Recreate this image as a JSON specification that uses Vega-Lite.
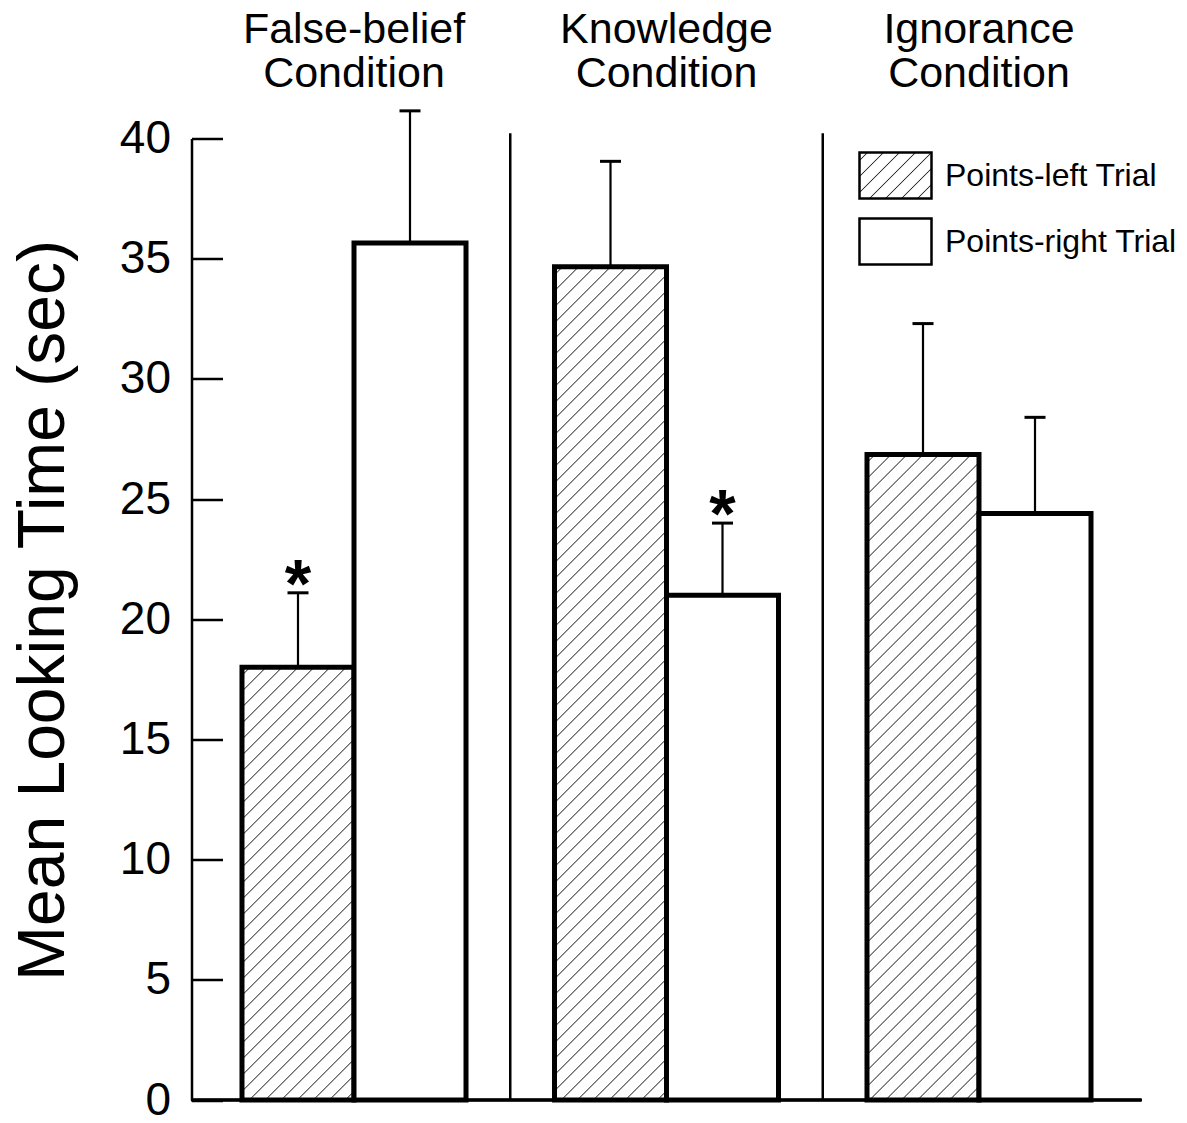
{
  "$schema": "https://vega.github.io/schema/vega-lite/v6.json",
  "width": 950,
  "height": 961.5,
  "autosize": {"type": "none"},
  "padding": {"left": 191.5, "top": 138.5, "right": 45.5, "bottom": 23},
  "background": "white",
  "config": {"font": "Liberation Sans", "view": {"stroke": null}},
  "params": [
    {"name": "hs", "value": [
      {"offset":0,"color":"#fff"},
      {"offset":0.0068,"color":"#fff"},{"offset":0.008,"color":"#333"},{"offset":0.0092,"color":"#fff"},
      {"offset":0.0228,"color":"#fff"},{"offset":0.024,"color":"#333"},{"offset":0.0252,"color":"#fff"},
      {"offset":0.0388,"color":"#fff"},{"offset":0.04,"color":"#333"},{"offset":0.0412,"color":"#fff"},
      {"offset":0.0548,"color":"#fff"},{"offset":0.056,"color":"#333"},{"offset":0.0572,"color":"#fff"},
      {"offset":0.0708,"color":"#fff"},{"offset":0.072,"color":"#333"},{"offset":0.0732,"color":"#fff"},
      {"offset":0.0868,"color":"#fff"},{"offset":0.088,"color":"#333"},{"offset":0.0892,"color":"#fff"},
      {"offset":0.1028,"color":"#fff"},{"offset":0.104,"color":"#333"},{"offset":0.1052,"color":"#fff"},
      {"offset":0.1188,"color":"#fff"},{"offset":0.12,"color":"#333"},{"offset":0.1212,"color":"#fff"},
      {"offset":0.1348,"color":"#fff"},{"offset":0.136,"color":"#333"},{"offset":0.1372,"color":"#fff"},
      {"offset":0.1508,"color":"#fff"},{"offset":0.152,"color":"#333"},{"offset":0.1532,"color":"#fff"},
      {"offset":0.1668,"color":"#fff"},{"offset":0.168,"color":"#333"},{"offset":0.1692,"color":"#fff"},
      {"offset":0.1828,"color":"#fff"},{"offset":0.184,"color":"#333"},{"offset":0.1852,"color":"#fff"},
      {"offset":0.1988,"color":"#fff"},{"offset":0.2,"color":"#333"},{"offset":0.2012,"color":"#fff"},
      {"offset":0.2148,"color":"#fff"},{"offset":0.216,"color":"#333"},{"offset":0.2172,"color":"#fff"},
      {"offset":0.2308,"color":"#fff"},{"offset":0.232,"color":"#333"},{"offset":0.2332,"color":"#fff"},
      {"offset":0.2468,"color":"#fff"},{"offset":0.248,"color":"#333"},{"offset":0.2492,"color":"#fff"},
      {"offset":0.2628,"color":"#fff"},{"offset":0.264,"color":"#333"},{"offset":0.2652,"color":"#fff"},
      {"offset":0.2788,"color":"#fff"},{"offset":0.28,"color":"#333"},{"offset":0.2812,"color":"#fff"},
      {"offset":0.2948,"color":"#fff"},{"offset":0.296,"color":"#333"},{"offset":0.2972,"color":"#fff"},
      {"offset":0.3108,"color":"#fff"},{"offset":0.312,"color":"#333"},{"offset":0.3132,"color":"#fff"},
      {"offset":0.3268,"color":"#fff"},{"offset":0.328,"color":"#333"},{"offset":0.3292,"color":"#fff"},
      {"offset":0.3428,"color":"#fff"},{"offset":0.344,"color":"#333"},{"offset":0.3452,"color":"#fff"},
      {"offset":0.3588,"color":"#fff"},{"offset":0.36,"color":"#333"},{"offset":0.3612,"color":"#fff"},
      {"offset":0.3748,"color":"#fff"},{"offset":0.376,"color":"#333"},{"offset":0.3772,"color":"#fff"},
      {"offset":0.3908,"color":"#fff"},{"offset":0.392,"color":"#333"},{"offset":0.3932,"color":"#fff"},
      {"offset":0.4068,"color":"#fff"},{"offset":0.408,"color":"#333"},{"offset":0.4092,"color":"#fff"},
      {"offset":0.4228,"color":"#fff"},{"offset":0.424,"color":"#333"},{"offset":0.4252,"color":"#fff"},
      {"offset":0.4388,"color":"#fff"},{"offset":0.44,"color":"#333"},{"offset":0.4412,"color":"#fff"},
      {"offset":0.4548,"color":"#fff"},{"offset":0.456,"color":"#333"},{"offset":0.4572,"color":"#fff"},
      {"offset":0.4708,"color":"#fff"},{"offset":0.472,"color":"#333"},{"offset":0.4732,"color":"#fff"},
      {"offset":0.4868,"color":"#fff"},{"offset":0.488,"color":"#333"},{"offset":0.4892,"color":"#fff"},
      {"offset":0.5028,"color":"#fff"},{"offset":0.504,"color":"#333"},{"offset":0.5052,"color":"#fff"},
      {"offset":0.5188,"color":"#fff"},{"offset":0.52,"color":"#333"},{"offset":0.5212,"color":"#fff"},
      {"offset":0.5348,"color":"#fff"},{"offset":0.536,"color":"#333"},{"offset":0.5372,"color":"#fff"},
      {"offset":0.5508,"color":"#fff"},{"offset":0.552,"color":"#333"},{"offset":0.5532,"color":"#fff"},
      {"offset":0.5668,"color":"#fff"},{"offset":0.568,"color":"#333"},{"offset":0.5692,"color":"#fff"},
      {"offset":0.5828,"color":"#fff"},{"offset":0.584,"color":"#333"},{"offset":0.5852,"color":"#fff"},
      {"offset":0.5988,"color":"#fff"},{"offset":0.6,"color":"#333"},{"offset":0.6012,"color":"#fff"},
      {"offset":0.6148,"color":"#fff"},{"offset":0.616,"color":"#333"},{"offset":0.6172,"color":"#fff"},
      {"offset":0.6308,"color":"#fff"},{"offset":0.632,"color":"#333"},{"offset":0.6332,"color":"#fff"},
      {"offset":0.6468,"color":"#fff"},{"offset":0.648,"color":"#333"},{"offset":0.6492,"color":"#fff"},
      {"offset":0.6628,"color":"#fff"},{"offset":0.664,"color":"#333"},{"offset":0.6652,"color":"#fff"},
      {"offset":0.6788,"color":"#fff"},{"offset":0.68,"color":"#333"},{"offset":0.6812,"color":"#fff"},
      {"offset":0.6948,"color":"#fff"},{"offset":0.696,"color":"#333"},{"offset":0.6972,"color":"#fff"},
      {"offset":0.7108,"color":"#fff"},{"offset":0.712,"color":"#333"},{"offset":0.7132,"color":"#fff"},
      {"offset":0.7268,"color":"#fff"},{"offset":0.728,"color":"#333"},{"offset":0.7292,"color":"#fff"},
      {"offset":0.7428,"color":"#fff"},{"offset":0.744,"color":"#333"},{"offset":0.7452,"color":"#fff"},
      {"offset":0.7588,"color":"#fff"},{"offset":0.76,"color":"#333"},{"offset":0.7612,"color":"#fff"},
      {"offset":0.7748,"color":"#fff"},{"offset":0.776,"color":"#333"},{"offset":0.7772,"color":"#fff"},
      {"offset":0.7908,"color":"#fff"},{"offset":0.792,"color":"#333"},{"offset":0.7932,"color":"#fff"},
      {"offset":0.8068,"color":"#fff"},{"offset":0.808,"color":"#333"},{"offset":0.8092,"color":"#fff"},
      {"offset":0.8228,"color":"#fff"},{"offset":0.824,"color":"#333"},{"offset":0.8252,"color":"#fff"},
      {"offset":0.8388,"color":"#fff"},{"offset":0.84,"color":"#333"},{"offset":0.8412,"color":"#fff"},
      {"offset":0.8548,"color":"#fff"},{"offset":0.856,"color":"#333"},{"offset":0.8572,"color":"#fff"},
      {"offset":0.8708,"color":"#fff"},{"offset":0.872,"color":"#333"},{"offset":0.8732,"color":"#fff"},
      {"offset":0.8868,"color":"#fff"},{"offset":0.888,"color":"#333"},{"offset":0.8892,"color":"#fff"},
      {"offset":0.9028,"color":"#fff"},{"offset":0.904,"color":"#333"},{"offset":0.9052,"color":"#fff"},
      {"offset":0.9188,"color":"#fff"},{"offset":0.92,"color":"#333"},{"offset":0.9212,"color":"#fff"},
      {"offset":0.9348,"color":"#fff"},{"offset":0.936,"color":"#333"},{"offset":0.9372,"color":"#fff"},
      {"offset":0.9508,"color":"#fff"},{"offset":0.952,"color":"#333"},{"offset":0.9532,"color":"#fff"},
      {"offset":0.9668,"color":"#fff"},{"offset":0.968,"color":"#333"},{"offset":0.9692,"color":"#fff"},
      {"offset":0.9828,"color":"#fff"},{"offset":0.984,"color":"#333"},{"offset":0.9852,"color":"#fff"}
    ]},
    {"name": "lg", "expr": "{gradient:'linear',x1:0,y1:0,x2:9.863,y2:6.301,stops:hs}"}
  ],
  "data": {"values": [
    {"cond": "False-belief Condition", "trial": "Points-left Trial", "mean": 18.0, "upper": 21.1, "sig": "*"},
    {"cond": "False-belief Condition", "trial": "Points-right Trial", "mean": 35.65, "upper": 41.15, "sig": ""},
    {"cond": "Knowledge Condition", "trial": "Points-left Trial", "mean": 34.66, "upper": 39.05, "sig": ""},
    {"cond": "Knowledge Condition", "trial": "Points-right Trial", "mean": 21.0, "upper": 24.0, "sig": "*"},
    {"cond": "Ignorance Condition", "trial": "Points-left Trial", "mean": 26.85, "upper": 32.3, "sig": ""},
    {"cond": "Ignorance Condition", "trial": "Points-right Trial", "mean": 24.4, "upper": 28.4, "sig": ""}
  ]},
  "layer": [
    {
      "mark": {"type": "bar", "stroke": "black", "strokeWidth": 5, "strokeJoin": "miter"},
      "encoding": {
        "x": {"field": "cond", "type": "nominal", "scale": {"type": "band", "domain": ["False-belief Condition", "Knowledge Condition", "Ignorance Condition"], "paddingInner": 0, "paddingOuter": 0.02},
          "axis": {"orient": "top", "title": null, "domain": false, "ticks": false, "labelAngle": 0, "labelFontSize": 43, "labelLineHeight": 44, "labelPadding": 87, "labelColor": "black", "labelLimit": 0, "labelExpr": "split(datum.label, ' ')", "labelBaseline": "bottom"}},
        "xOffset": {"field": "trial", "type": "nominal", "scale": {"type": "band", "domain": ["Points-left Trial", "Points-right Trial"], "paddingInner": 0, "paddingOuter": 0.395}},
        "y": {"field": "mean", "type": "quantitative", "scale": {"domain": [0, 40], "nice": false},
          "axis": {"title": "Mean Looking Time (sec)", "values": [0, 5, 10, 15, 20, 25, 30, 35, 40], "grid": false, "tickSize": -31, "tickWidth": 2.5, "tickColor": "black", "domainColor": "black", "domainWidth": 2.5, "labelFontSize": 46, "labelColor": "black", "labelPadding": 52, "titleFontSize": 66, "titleFontWeight": "normal", "titleColor": "black", "titlePadding": 42, "titleY": 471.5}},
        "fill": {"field": "trial", "type": "nominal",
          "scale": {"domain": ["Points-left Trial", "Points-right Trial"], "range": [{"expr": "lg"}, "white"]},
          "legend": {"orient": "none", "legendX": 666.5, "legendY": -0.5, "title": null, "padding": 0,
            "symbolType": "M-1,-0.639L1,-0.639L1,0.639L-1,0.639Z", "symbolSize": 5184, "symbolStrokeColor": "black", "symbolStrokeWidth": 2.5,
            "labelFontSize": 32, "labelColor": "black", "labelOffset": 12, "labelLimit": 0, "rowPadding": -4},
          "condition": {"test": "datum.trial === 'Points-left Trial'", "value": {"expr": "{gradient:'linear',x1:0,y1:0,x2:112000/(12544+pow(datum.mean*24.0375,2)),y2:24037.5*datum.mean/(12544+pow(datum.mean*24.0375,2)),stops:hs}"}}
        }
      }
    },
    {
      "transform": [{"filter": "datum.trial === 'Points-left Trial' && datum.cond !== 'False-belief Condition'"}],
      "mark": {"type": "rule", "strokeWidth": 2.5, "color": "black"},
      "encoding": {
        "x": {"field": "cond", "type": "nominal", "bandPosition": 0, "scale": {"type": "band", "domain": ["False-belief Condition", "Knowledge Condition", "Ignorance Condition"], "paddingInner": 0, "paddingOuter": 0.02},
          "axis": {"orient": "top", "title": null, "domain": false, "ticks": false, "labelAngle": 0, "labelFontSize": 43, "labelLineHeight": 44, "labelPadding": 87, "labelColor": "black", "labelLimit": 0, "labelExpr": "split(datum.label, ' ')", "labelBaseline": "bottom"}},
        "y": {"datum": 0, "type": "quantitative", "scale": {"domain": [0, 40], "nice": false},
          "axis": {"title": "Mean Looking Time (sec)", "values": [0, 5, 10, 15, 20, 25, 30, 35, 40], "grid": false, "tickSize": -31, "tickWidth": 2.5, "tickColor": "black", "domainColor": "black", "domainWidth": 2.5, "labelFontSize": 46, "labelColor": "black", "labelPadding": 52, "titleFontSize": 66, "titleFontWeight": "normal", "titleColor": "black", "titlePadding": 42, "titleY": 471.5}},
        "y2": {"datum": 40.22}
      }
    },
    {
      "mark": {"type": "rule", "strokeWidth": 2.5, "color": "black"},
      "encoding": {
        "y": {"datum": 0, "type": "quantitative", "scale": {"domain": [0, 40], "nice": false},
          "axis": {"title": "Mean Looking Time (sec)", "values": [0, 5, 10, 15, 20, 25, 30, 35, 40], "grid": false, "tickSize": -31, "tickWidth": 2.5, "tickColor": "black", "domainColor": "black", "domainWidth": 2.5, "labelFontSize": 46, "labelColor": "black", "labelPadding": 52, "titleFontSize": 66, "titleFontWeight": "normal", "titleColor": "black", "titlePadding": 42, "titleY": 471.5}}
      }
    },
    {
      "mark": {"type": "rule", "strokeWidth": 2.2, "color": "black"},
      "encoding": {
        "x": {"field": "cond", "type": "nominal", "scale": {"type": "band", "domain": ["False-belief Condition", "Knowledge Condition", "Ignorance Condition"], "paddingInner": 0, "paddingOuter": 0.02},
          "axis": {"orient": "top", "title": null, "domain": false, "ticks": false, "labelAngle": 0, "labelFontSize": 43, "labelLineHeight": 44, "labelPadding": 87, "labelColor": "black", "labelLimit": 0, "labelExpr": "split(datum.label, ' ')", "labelBaseline": "bottom"}},
        "xOffset": {"field": "trial", "type": "nominal", "scale": {"type": "band", "domain": ["Points-left Trial", "Points-right Trial"], "paddingInner": 0, "paddingOuter": 0.395}},
        "y": {"field": "mean", "type": "quantitative", "scale": {"domain": [0, 40], "nice": false},
          "axis": {"title": "Mean Looking Time (sec)", "values": [0, 5, 10, 15, 20, 25, 30, 35, 40], "grid": false, "tickSize": -31, "tickWidth": 2.5, "tickColor": "black", "domainColor": "black", "domainWidth": 2.5, "labelFontSize": 46, "labelColor": "black", "labelPadding": 52, "titleFontSize": 66, "titleFontWeight": "normal", "titleColor": "black", "titlePadding": 42, "titleY": 471.5}},
        "y2": {"field": "upper"}
      }
    },
    {
      "mark": {"type": "tick", "orient": "horizontal", "size": 21, "thickness": 3, "color": "black", "opacity": 1},
      "encoding": {
        "x": {"field": "cond", "type": "nominal", "scale": {"type": "band", "domain": ["False-belief Condition", "Knowledge Condition", "Ignorance Condition"], "paddingInner": 0, "paddingOuter": 0.02},
          "axis": {"orient": "top", "title": null, "domain": false, "ticks": false, "labelAngle": 0, "labelFontSize": 43, "labelLineHeight": 44, "labelPadding": 87, "labelColor": "black", "labelLimit": 0, "labelExpr": "split(datum.label, ' ')", "labelBaseline": "bottom"}},
        "xOffset": {"field": "trial", "type": "nominal", "scale": {"type": "band", "domain": ["Points-left Trial", "Points-right Trial"], "paddingInner": 0, "paddingOuter": 0.395}},
        "y": {"field": "upper", "type": "quantitative", "scale": {"domain": [0, 40], "nice": false},
          "axis": {"title": "Mean Looking Time (sec)", "values": [0, 5, 10, 15, 20, 25, 30, 35, 40], "grid": false, "tickSize": -31, "tickWidth": 2.5, "tickColor": "black", "domainColor": "black", "domainWidth": 2.5, "labelFontSize": 46, "labelColor": "black", "labelPadding": 52, "titleFontSize": 66, "titleFontWeight": "normal", "titleColor": "black", "titlePadding": 42, "titleY": 471.5}}
      }
    },
    {
      "mark": {"type": "text", "fontSize": 68, "fontWeight": "bold", "dy": 14, "baseline": "alphabetic", "align": "center", "color": "black"},
      "encoding": {
        "x": {"field": "cond", "type": "nominal", "scale": {"type": "band", "domain": ["False-belief Condition", "Knowledge Condition", "Ignorance Condition"], "paddingInner": 0, "paddingOuter": 0.02},
          "axis": {"orient": "top", "title": null, "domain": false, "ticks": false, "labelAngle": 0, "labelFontSize": 43, "labelLineHeight": 44, "labelPadding": 87, "labelColor": "black", "labelLimit": 0, "labelExpr": "split(datum.label, ' ')", "labelBaseline": "bottom"}},
        "xOffset": {"field": "trial", "type": "nominal", "scale": {"type": "band", "domain": ["Points-left Trial", "Points-right Trial"], "paddingInner": 0, "paddingOuter": 0.395}},
        "y": {"field": "upper", "type": "quantitative", "scale": {"domain": [0, 40], "nice": false},
          "axis": {"title": "Mean Looking Time (sec)", "values": [0, 5, 10, 15, 20, 25, 30, 35, 40], "grid": false, "tickSize": -31, "tickWidth": 2.5, "tickColor": "black", "domainColor": "black", "domainWidth": 2.5, "labelFontSize": 46, "labelColor": "black", "labelPadding": 52, "titleFontSize": 66, "titleFontWeight": "normal", "titleColor": "black", "titlePadding": 42, "titleY": 471.5}},
        "text": {"field": "sig"}
      }
    }
  ]
}
